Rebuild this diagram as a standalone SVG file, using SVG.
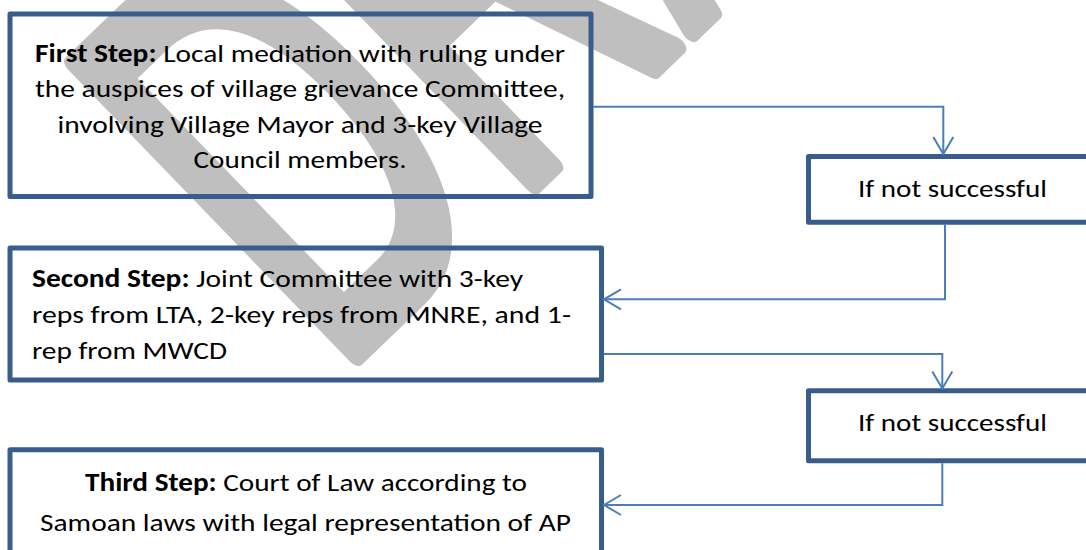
<svg xmlns="http://www.w3.org/2000/svg" width="1086" height="550" viewBox="0 0 1086 550">
  <style>
    .box { fill: none; stroke: #385d8a; stroke-width: 5; stroke-linejoin: round; }
    .conn { fill: none; stroke: #4a7ebb; stroke-width: 2; }
    .t { font-family: Calibri, Carlito, Lato, "Liberation Sans", sans-serif; font-size: 25.5px; fill: #000; }
    .b { font-weight: bold; }
    .wm { font-family: "Liberation Sans", Arial, sans-serif; font-weight: normal; font-size: 590px; fill: #bfbfbf; stroke: #bfbfbf; stroke-width: 17; stroke-linejoin: round; vector-effect: non-scaling-stroke; }
  </style>
  <defs>
    <marker id="arr" viewBox="-20 -12 24 24" refX="0" refY="0" markerWidth="24" markerHeight="24" markerUnits="userSpaceOnUse" orient="auto">
      <path d="M-17,-10 L0,0 L-17,10" fill="none" stroke="#4a7ebb" stroke-width="2"/>
    </marker>
  </defs>
  <rect width="1086" height="550" fill="#ffffff"/>
  <g id="watermark">
    <text class="wm" x="0" y="0" transform="translate(334.3,377) rotate(-44) scale(0.5794,1)">DRAFT</text>
  </g>
  <g id="step1">
    <rect class="box" x="10" y="14" width="581" height="182.5"/>
    <text class="t" x="35" y="61.5" textLength="530" lengthAdjust="spacingAndGlyphs"><tspan class="b">First Step:</tspan> Local mediation with ruling under</text>
    <text class="t" x="35" y="97" textLength="530" lengthAdjust="spacingAndGlyphs">the auspices of village grievance Committee,</text>
    <text class="t" x="57.5" y="132.5" textLength="485" lengthAdjust="spacingAndGlyphs">involving Village Mayor and 3-key Village</text>
    <text class="t" x="193.5" y="168" textLength="213" lengthAdjust="spacingAndGlyphs">Council members.</text>
  </g>
  <g id="fail1">
    <rect class="box" x="808.5" y="156.5" width="300" height="65.7"/>
    <text class="t" x="858" y="196.7" textLength="189" lengthAdjust="spacingAndGlyphs">If not successful</text>
  </g>
  <g id="step2">
    <rect class="box" x="10" y="248" width="591.5" height="132"/>
    <text class="t" x="32" y="287.3" textLength="491" lengthAdjust="spacingAndGlyphs"><tspan class="b">Second Step:</tspan> Joint Committee with 3-key</text>
    <text class="t" x="32" y="323" textLength="539" lengthAdjust="spacingAndGlyphs">reps from LTA, 2-key reps from MNRE, and 1-</text>
    <text class="t" x="32" y="358.5" textLength="195" lengthAdjust="spacingAndGlyphs">rep from MWCD</text>
  </g>
  <g id="fail2">
    <rect class="box" x="808.5" y="390.8" width="300" height="70"/>
    <text class="t" x="858" y="430.7" textLength="189" lengthAdjust="spacingAndGlyphs">If not successful</text>
  </g>
  <g id="step3">
    <rect class="box" x="10" y="449.8" width="591.5" height="150"/>
    <text class="t" x="85" y="491" textLength="442" lengthAdjust="spacingAndGlyphs"><tspan class="b">Third Step:</tspan> Court of Law according to</text>
    <text class="t" x="40" y="531" textLength="531" lengthAdjust="spacingAndGlyphs">Samoan laws with legal representation of AP</text>
  </g>
  <g id="connectors">
    <path class="conn" d="M593,106.7 H943.3 V154" marker-end="url(#arr)"/>
    <path class="conn" d="M945,224.7 V299.3 H604" marker-end="url(#arr)"/>
    <path class="conn" d="M604,354 H942.3 V388.5" marker-end="url(#arr)"/>
    <path class="conn" d="M942.3,463.3 V505 H604" marker-end="url(#arr)"/>
  </g>
</svg>
